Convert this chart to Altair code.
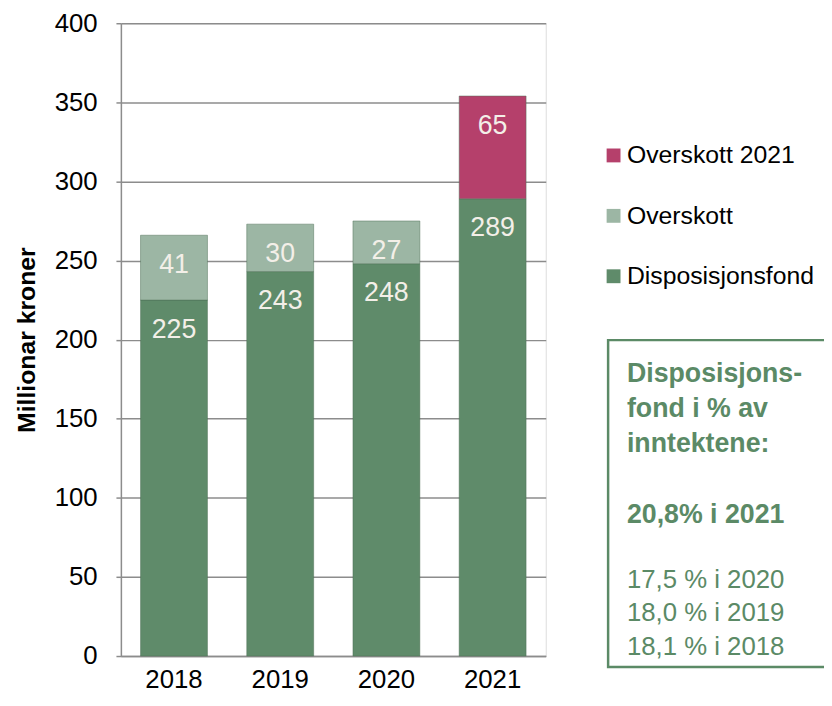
import altair as alt
import pandas as pd

years = ["2018", "2019", "2020", "2021"]
disposisjonsfond = [225, 243, 248, 289]
overskott = [41, 30, 27, None]
overskott_2021 = [None, None, None, 65]

series_names = ["Overskott 2021", "Overskott", "Disposisjonsfond"]
series_colors = ["#B5406B", "#9CB6A4", "#5F8B6A"]

box_bold_lines = ["Disposisjons-", "fond i % av", "inntektene:"]
box_highlight = "20,8% i 2021"
box_regular_lines = ["17,5 % i 2020", "18,0 % i 2019", "18,1 % i 2018"]

rows = []
for i, yr in enumerate(years):
    rows.append({"year": yr, "series": "Disposisjonsfond", "value": disposisjonsfond[i], "ord": 0})
    if overskott[i] is not None:
        rows.append({"year": yr, "series": "Overskott", "value": overskott[i], "ord": 1})
    if overskott_2021[i] is not None:
        rows.append({"year": yr, "series": "Overskott 2021", "value": overskott_2021[i], "ord": 2})
df = pd.DataFrame(rows)

FONT = "Liberation Sans"
GREEN_TXT = "#5B8A66"

base = alt.Chart(df).transform_stack(
    stack="value", groupby=["year"], sort=[alt.SortField("ord", "ascending")], as_=["y0", "y1"]
)

x_enc = alt.X("year:N", title=None, sort=years,
              scale=alt.Scale(paddingInner=0.37, paddingOuter=0.185),
              axis=alt.Axis(labelAngle=0, labelFontSize=26, labelColor="#000", labelFont=FONT,
                            ticks=False, domain=True, domainColor="#8c8c8c", domainWidth=1.5,
                            labelPadding=11))

bars = base.mark_bar(stroke="#4d6e55", strokeWidth=0.8, strokeOpacity=0.6).encode(
    x=x_enc,
    y=alt.Y("y0:Q", title="Millionar kroner",
            scale=alt.Scale(domain=[0, 400], nice=False),
            axis=alt.Axis(values=list(range(0, 401, 50)), labelFontSize=26, labelFont=FONT,
                          labelColor="#000", tickColor="#8c8c8c", tickSize=5, tickWidth=1.5,
                          domainColor="#8c8c8c", domainWidth=1.5,
                          gridColor="#8c8c8c", gridWidth=1.5, labelPadding=19,
                          titleFontSize=25, titleFont=FONT, titleFontWeight="bold",
                          titleColor="#000", titlePadding=15)),
    y2="y1:Q",
    color=alt.Color("series:N",
                    scale=alt.Scale(domain=series_names, range=series_colors),
                    legend=alt.Legend(title=None, orient="none", legendX=485, legendY=121,
                                      symbolType="square", symbolSize=196,
                                      symbolStrokeWidth=0, labelFontSize=25, labelFont=FONT,
                                      labelColor="#000", rowPadding=35, labelOffset=1,
                                      labelLimit=400)),
)

labels = base.mark_text(fontSize=27, font=FONT, color="#F3EFE8", baseline="middle", dy=30).encode(
    x=alt.X("year:N", sort=years),
    y=alt.Y("y1:Q"),
    text=alt.Text("value:Q"),
)

dummy = alt.Chart(pd.DataFrame({"d": [0]}))

box = dummy.mark_rect(fill=None, stroke=GREEN_TXT, strokeWidth=2.5).encode(
    x=alt.value(492), x2=alt.value(740), y=alt.value(320), y2=alt.value(650)
)
bold_text = dummy.mark_text(text=box_bold_lines, font=FONT, fontSize=27, fontWeight="bold",
                            color=GREEN_TXT, align="left", baseline="top", lineHeight=35.5).encode(
    x=alt.value(511), y=alt.value(341)
)
hl_text = dummy.mark_text(text=box_highlight, font=FONT, fontSize=27, fontWeight="bold",
                          color=GREEN_TXT, align="left", baseline="top").encode(
    x=alt.value(511), y=alt.value(484)
)
reg_text = dummy.mark_text(text=box_regular_lines, font=FONT, fontSize=26,
                           color=GREEN_TXT, align="left", baseline="top", lineHeight=34).encode(
    x=alt.value(511), y=alt.value(549)
)

chart = alt.layer(bars, labels, box, bold_text, hl_text, reg_text).properties(
    width=429, height=639,
    autosize=alt.AutoSizeParams(type="none"),
    padding={"left": 114, "top": 12, "right": 281, "bottom": 39},
).configure_view(stroke=None).configure(font=FONT)

chart.save("out.html", embed_options={"renderer": "svg", "actions": False})
